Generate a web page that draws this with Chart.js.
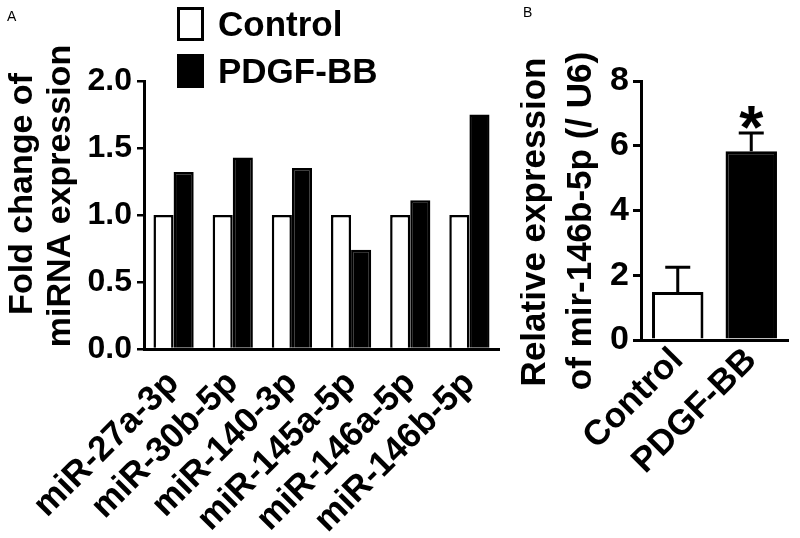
<!DOCTYPE html>
<html>
<head>
<meta charset="utf-8">
<script src="https://cdn.jsdelivr.net/npm/chart.js@4/dist/chart.umd.min.js"></script>
<style>
body { margin: 0; background: #fff; width: 800px; height: 538px; position: relative; overflow: hidden; }
#wa { position: absolute; left: 0; top: 0; width: 520px; height: 538px; }
#wb { position: absolute; left: 520px; top: 0; width: 280px; height: 538px; }
</style>
</head>
<body>
<div id="wa"><canvas id="grapikA"></canvas></div>
<div id="wb"><canvas id="grapikB"></canvas></div>
<script>
// panel A - fold change
var mirnas = ['miR-27a-3p', 'miR-30b-5p', 'miR-140-3p', 'miR-145a-5p', 'miR-146a-5p', 'miR-146b-5p'];
var controlFold = [1, 1, 1, 1, 1, 1];
var pdgfFold = [1.32, 1.43, 1.35, 0.74, 1.11, 1.75];
var yTicksA = [0, 0.5, 1.0, 1.5, 2.0];

// panel B - relative expression
var groups = ['Control', 'PDGF-BB'];
var mir146b = [1.48, 5.83];
var mir146bErr = [0.77, 0.56];
var signif = ['', '*'];
var yTicksB = [0, 2, 4, 6, 8];

var fam = '"Liberation Sans", Arial, sans-serif';
Chart.defaults.color = '#000';
Chart.defaults.font.family = fam;

// draws rotated y title + panel letter
function tulisan(ctx, opts) {
    ctx.save();
    ctx.fillStyle = '#000';
    ctx.font = '14px ' + fam;
    ctx.textAlign = 'left';
    ctx.textBaseline = 'top';
    ctx.fillText(opts.letter, opts.lx, opts.ly);
    ctx.font = 'bold ' + opts.size + 'px ' + fam;
    ctx.textAlign = 'center';
    ctx.textBaseline = 'alphabetic';
    opts.lines.forEach(function (l) {
        ctx.save();
        ctx.translate(l.x, l.y);
        ctx.rotate(-Math.PI / 2);
        ctx.fillText(l.t, 0, 0);
        ctx.restore();
    });
    ctx.restore();
}

var hiasanA = {
    id: 'hiasanA',
    afterDraw: function (chart) {
        var ctx = chart.ctx;
        tulisan(ctx, {
            letter: 'A', lx: 7, ly: 10, size: 34,
            lines: [{ t: 'Fold change of', x: 32, y: 194 }, { t: 'miRNA expression', x: 70, y: 196 }]
        });
        // legend
        ctx.save();
        ctx.font = 'bold 35px ' + fam;
        ctx.textBaseline = 'middle';
        ctx.textAlign = 'left';
        chart.data.datasets.forEach(function (ds, i) {
            var top = 7 + i * 47;
            ctx.fillStyle = ds.backgroundColor;
            ctx.fillRect(177, top, 27, 34);
            ctx.lineWidth = 3;
            ctx.strokeStyle = '#000';
            ctx.strokeRect(178.5, top + 1.5, 24, 31);
            ctx.fillStyle = '#000';
            ctx.fillText(ds.label, 218, top + 19);
        });
        ctx.restore();
    }
};

var hiasanB = {
    id: 'hiasanB',
    afterDatasetsDraw: function (chart) {
        var ctx = chart.ctx;
        var y = chart.scales.y;
        var meta = chart.getDatasetMeta(0);
        ctx.save();
        ctx.strokeStyle = '#000';
        ctx.lineWidth = 3;
        meta.data.forEach(function (bar, i) {
            var yTop = y.getPixelForValue(mir146b[i] + mir146bErr[i]);
            ctx.beginPath();
            ctx.moveTo(bar.x, bar.y);
            ctx.lineTo(bar.x, yTop);
            ctx.moveTo(bar.x - 12.5, yTop);
            ctx.lineTo(bar.x + 12.5, yTop);
            ctx.stroke();
            if (signif[i]) {
                ctx.fillStyle = '#000';
                ctx.font = 'bold 62px ' + fam;
                ctx.textAlign = 'center';
                ctx.textBaseline = 'alphabetic';
                ctx.fillText(signif[i], bar.x, yTop + 15);
            }
        });
        ctx.restore();
    },
    afterDraw: function (chart) {
        tulisan(chart.ctx, {
            letter: 'B', lx: 3, ly: 6, size: 35,
            lines: [{ t: 'Relative expression', x: 25, y: 222 }, { t: 'of mir-146b-5p (/ U6)', x: 71, y: 221 }]
        });
    }
};

var ctx = document.getElementById('grapikA').getContext('2d');
var chart = new Chart(ctx, {
    type: 'bar',
    data: {
        labels: mirnas,
        datasets: [{
            label: 'Control',
            data: controlFold,
            backgroundColor: '#fff',
            borderColor: '#000',
            borderWidth: 2.5
        }, {
            label: 'PDGF-BB',
            data: pdgfFold,
            backgroundColor: '#000',
            borderColor: '#000',
            borderWidth: 2.5
        }]
    },
    options: {
        responsive: true,
        maintainAspectRatio: false,
        animation: false,
        layout: { padding: { top: 81, right: 21, left: 0, bottom: 0 } },
        datasets: { bar: { barPercentage: 1.0, categoryPercentage: 0.68 } },
        plugins: { legend: { display: false }, tooltip: { enabled: false } },
        scales: {
            x: {
                grid: { display: false, drawTicks: false },
                border: { display: true, color: '#000', width: 3 },
                ticks: { autoSkip: false, minRotation: 45, maxRotation: 45, padding: 14, font: { size: 35, weight: 'bold' } },
                afterFit: function (s) { s.height = 189; }
            },
            y: {
                min: yTicksA[0],
                max: yTicksA[yTicksA.length - 1],
                grid: { drawOnChartArea: false, drawTicks: true, tickLength: 7, color: '#000', lineWidth: 2.5 },
                border: { display: true, color: '#000', width: 3 },
                ticks: {
                    stepSize: yTicksA[1] - yTicksA[0],
                    padding: 5,
                    font: { size: 32, weight: 'bold' },
                    callback: function (v) { return v.toFixed(1); }
                },
                afterFit: function (s) { s.width = 144; }
            }
        }
    },
    plugins: [hiasanA]
});

var ctx = document.getElementById('grapikB').getContext('2d');
var chart = new Chart(ctx, {
    type: 'bar',
    data: {
        labels: groups,
        datasets: [{
            label: 'mir-146b-5p',
            data: mir146b,
            backgroundColor: ['#fff', '#000'],
            borderColor: '#000',
            borderWidth: 3
        }]
    },
    options: {
        responsive: true,
        maintainAspectRatio: false,
        animation: false,
        layout: { padding: { top: 81, right: 12, left: 0, bottom: 0 } },
        datasets: { bar: { barPercentage: 0.7, categoryPercentage: 1.0 } },
        plugins: { legend: { display: false }, tooltip: { enabled: false } },
        scales: {
            x: {
                grid: { display: false, drawTicks: false },
                border: { display: true, color: '#000', width: 3 },
                ticks: { autoSkip: false, minRotation: 45, maxRotation: 45, padding: 0, font: { size: 35, weight: 'bold' } },
                afterFit: function (s) { s.height = 198; }
            },
            y: {
                min: yTicksB[0],
                max: yTicksB[yTicksB.length - 1],
                grid: { drawOnChartArea: false, drawTicks: true, tickLength: 8, color: '#000', lineWidth: 3 },
                border: { display: true, color: '#000', width: 3 },
                ticks: { stepSize: yTicksB[1] - yTicksB[0], padding: 4, font: { size: 34, weight: 'bold' } },
                afterFit: function (s) { s.width = 121; }
            }
        }
    },
    plugins: [hiasanB]
});
</script>
</body>
</html>
